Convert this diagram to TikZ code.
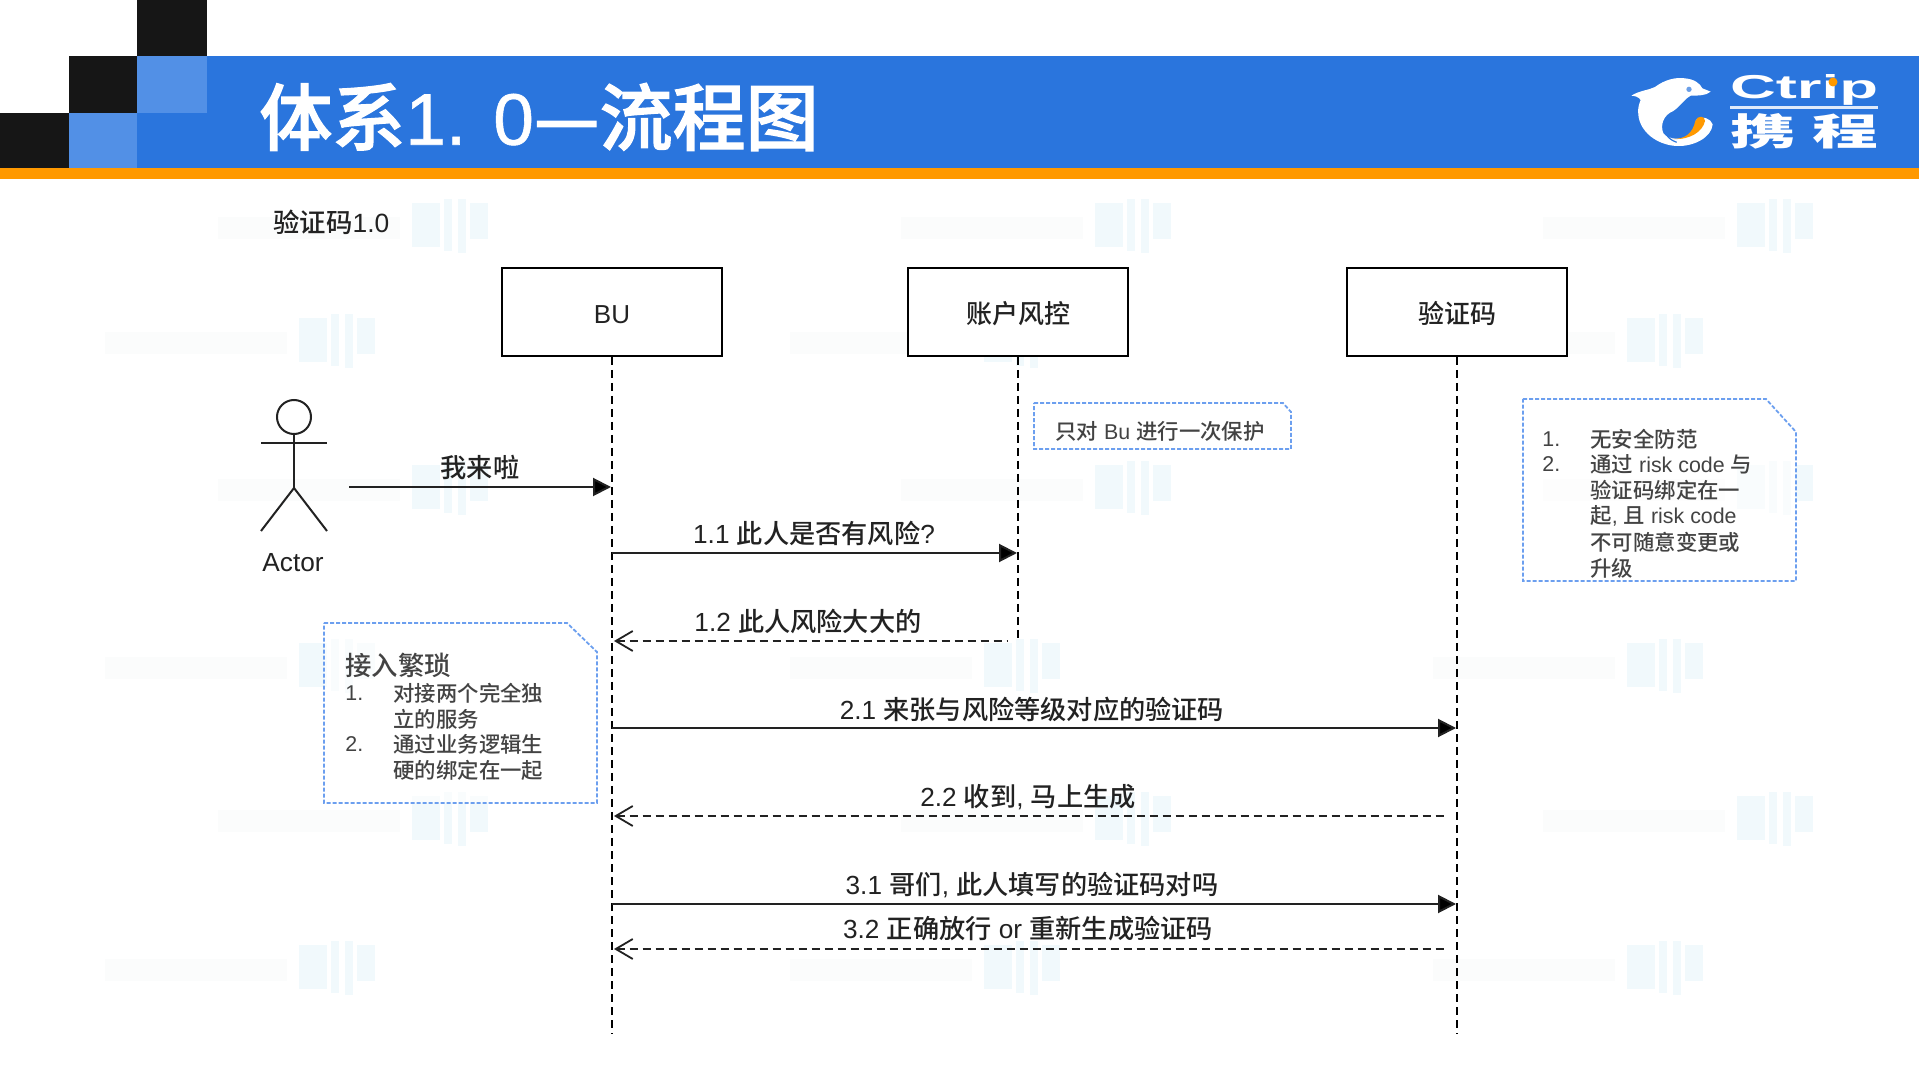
\documentclass[tikz,border=0pt]{standalone}
\usepackage{fontspec}
\usepackage{graphicx}
\setmainfont{Liberation Sans}
\newfontfamily\cjkf{Noto Sans CJK SC Medium}
\newfontfamily\titlef[FakeBold=1.6]{Noto Sans CJK SC Medium}
\newfontfamily\titlel[FakeBold=0.8]{Liberation Sans}
\usetikzlibrary{arrows.meta,calc}
\definecolor{hdrblue}{HTML}{2A75DD}
\definecolor{hdrlight}{HTML}{5290E6}
\definecolor{hdrblack}{HTML}{161616}
\definecolor{hdrorange}{HTML}{FF9900}
\definecolor{notecol}{HTML}{6C9FEF}
\definecolor{inkcol}{HTML}{222222}
\definecolor{wmbar}{HTML}{F1F9FC}
\definecolor{wmtxt}{HTML}{FBFCFC}
\newcommand{\zh}[1]{{\cjkf #1}}
\newcommand{\fs}[1]{\fontsize{#1}{#1}\selectfont}
\tikzset{
  actorbox/.style={draw=black,line width=1pt,fill=white,minimum width=110pt,minimum height=44pt,inner sep=0pt,text=inkcol,font=\fs{13},text height=14pt,text depth=2pt},
  lifeline/.style={line width=1pt,draw=black,dash pattern=on 4pt off 2.5pt},
  callmsg/.style={line width=1pt,draw=inkcol,-{Triangle[length=9pt,width=9pt,fill=black]},shorten >=0.5pt},
  backmsg/.style={line width=1pt,draw=inkcol,dash pattern=on 4pt off 2.5pt,{Straight Barb[length=8.5pt,width=10pt,line width=.9pt]}-,shorten <=1pt,shorten >=5pt},
  msglabel/.style={inner sep=0pt,text=inkcol,font=\fs{13.1}},
  notebox/.style={draw=notecol,line width=.9pt,dash pattern=on 2pt off 1pt,fill=white,fill opacity=0.6},
  notetext/.style={anchor=west,inner sep=0pt,text=inkcol!85!white,font=\fs{10.7}},
  figure/.style={draw=inkcol,line width=1pt},
}
\begin{document}
\begin{tikzpicture}[x=0.5pt,y=-0.5pt]
\useasboundingbox (0,0) rectangle (1919,1080);
\fill[white] (0,0) rectangle (1919,1080);
\clip (0,0) rectangle (1919,1080);
% watermark
\foreach \wx/\wy in {450/225,1133/225,1775/225,337/340,1022/340,1665/340,450/487,1133/487,1775/487,337/665,1022/665,1665/665,450/818,1133/818,1775/818,337/967,1022/967,1665/967}{
  \fill[wmtxt] (\wx-232,\wy-8) rectangle (\wx-50,\wy+14);
  \fill[wmbar] (\wx-38,\wy-22) rectangle (\wx-10,\wy+22);
  \fill[wmbar] (\wx-6,\wy-26) rectangle (\wx+2,\wy+26);
  \fill[wmbar] (\wx+8,\wy-26) rectangle (\wx+16,\wy+28);
  \fill[wmbar] (\wx+20,\wy-22) rectangle (\wx+38,\wy+14);
}
% header
\fill[hdrblue] (207,56) rectangle (1919,168);
\fill[hdrblue] (137,113) rectangle (207,168);
\fill[hdrlight] (137,56) rectangle (207,113);
\fill[hdrlight] (69,113) rectangle (137,168);
\fill[hdrblack] (137,0) rectangle (207,56);
\fill[hdrblack] (69,56) rectangle (137,113);
\fill[hdrblack] (0,113) rectangle (69,168);
\fill[hdrorange] (0,168) rectangle (1919,179);
\node[anchor=west,inner sep=0pt,text=white,font=\fs{36.5}] (title) at (259,117) {{\titlef 体系}{\titlel 1. 0}{\titlef —流程图}};
% logo
\begin{scope}[shift={(1620,65)},x=0.16667pt,y=-0.16667pt]
  \fill[white,even odd rule] (34,92) .. controls (60,76) and (85,76) .. (105,66)
    .. controls (135,43) and (170,36) .. (195,40)
    .. controls (225,43) and (240,56) .. (247,70)
    -- (272,80) .. controls (258,92) and (235,92) .. (212,92)
    .. controls (195,100) and (185,120) .. (160,138)
    .. controls (130,150) and (120,180) .. (130,205)
    .. controls (145,225) and (190,228) .. (215,205)
    .. controls (225,195) and (228,180) .. (228,165)
    .. controls (245,150) and (272,160) .. (278,178)
    .. controls (275,215) and (225,245) .. (170,243)
    .. controls (110,240) and (60,200) .. (55,150)
    .. controls (52,130) and (58,115) .. (62,105)
    .. controls (55,95) and (45,93) .. (34,92) -- cycle;
  \fill[hdrorange] (160,222) .. controls (195,222) and (218,205) .. (226,168)
    .. controls (232,150) and (256,152) .. (255,168)
    .. controls (248,200) and (210,225) .. (160,222) -- cycle;
  \draw[hdrblue,line width=.6pt] (140,165) .. controls (125,190) and (135,220) .. (170,232);
  \fill[hdrblue!70!white] (207,73) circle (8);
\end{scope}
\node[inner sep=0pt,text=white,font=\bfseries] (logoen) at (1804,90) {\resizebox{74pt}{12pt}{Ctrip}};
\fill[hdrorange] (1833,82) circle (4.5);
\fill[white!85!hdrblue] (1730,106.5) rectangle (1878,109.5);
\node[inner sep=0pt,text=white,font=\bfseries] (logozh) at (1804,131) {\resizebox{74pt}{16pt}{\zh{携\hspace{.25em}程}}};
% caption
\node[anchor=west,inner sep=0pt,text=inkcol,font=\fs{13.2}] (caption) at (273,222) {\zh{验证码}1.0};
% lifeline heads
\node[actorbox] (bu) at (612,312) {BU};
\node[actorbox] (risk) at (1018,312) {\zh{账户风控}};
\node[actorbox] (code) at (1457,312) {\zh{验证码}};
\coordinate (buend) at (612,1034);
\coordinate (riskend) at (1018,641);
\coordinate (codeend) at (1457,1034);
\draw[lifeline] (bu.south) -- (buend);
\draw[lifeline] (risk.south) -- (riskend);
\draw[lifeline] (code.south) -- (codeend);
% actor
\node[circle,draw=inkcol,line width=1pt,minimum size=17pt,inner sep=0pt] (head) at (294,417) {};
\coordinate (hip) at (294,488);
\coordinate (armL) at (261,443);
\coordinate (armR) at (327,443);
\coordinate (footL) at (261,531);
\coordinate (footR) at (327,531);
\draw[figure] (head.south) -- (hip);
\draw[figure] (armL) -- (armR);
\draw[figure] (footL) -- (hip) -- (footR);
\node[msglabel] (actorlabel) at (293,563) {Actor};
% rows
\coordinate (r0) at (0,487);
\coordinate (r1) at (0,553);
\coordinate (r2) at (0,641);
\coordinate (r3) at (0,728);
\coordinate (r4) at (0,816);
\coordinate (r5) at (0,904);
\coordinate (r6) at (0,949);
\coordinate (actorhand) at (349,487);
\draw[callmsg] (actorhand) -- (bu.south |- r0);
\draw[callmsg] (bu.south |- r1) -- (risk.south |- r1);
\draw[backmsg] (bu.south |- r2) -- (risk.south |- r2);
\draw[callmsg] (bu.south |- r3) -- (code.south |- r3);
\draw[backmsg] (bu.south |- r4) -- (code.south |- r4);
\draw[callmsg] (bu.south |- r5) -- (code.south |- r5);
\draw[backmsg] (bu.south |- r6) -- (code.south |- r6);
\node[msglabel] (m0) at (480,467.5) {\zh{我来啦}};
\node[msglabel] (m1) at (814,533.5) {1.1 \zh{此人是否有风险}?};
\node[msglabel] (m2) at (808,621) {1.2 \zh{此人风险大大的}};
\node[msglabel] (m3) at (1032,709.5) {2.1 \zh{来张与风险等级对应的验证码}};
\node[msglabel] (m4) at (1028,797) {2.2 \zh{收到}, \zh{马上生成}};
\node[msglabel] (m5) at (1032,885) {3.1 \zh{哥们}, \zh{此人填写的验证码对吗}};
\node[msglabel] (m6) at (1028,929) {3.2 \zh{正确放行} or \zh{重新生成验证码}};
% notes
\draw[notebox] (324,623) -- (567,623) -- (597,652) -- (597,803) -- (324,803) -- cycle;
\node[notetext,font=\fs{13.2}] (n1t) at (345,665) {\zh{接入繁琐}};
\node[notetext] (n1a) at (345,693) {1.};
\node[notetext] (n1b) at (393,693) {\zh{对接两个完全独}};
\node[notetext] (n1c) at (393,719) {\zh{立的服务}};
\node[notetext] (n1d) at (345,744) {2.};
\node[notetext] (n1e) at (393,744) {\zh{通过业务逻辑生}};
\node[notetext] (n1f) at (393,770) {\zh{硬的绑定在一起}};
\draw[notebox] (1034,403) -- (1283,403) -- (1291,412) -- (1291,449) -- (1034,449) -- cycle;
\node[notetext] (n2) at (1055,431) {\zh{只对} Bu \zh{进行一次保护}};
\draw[notebox] (1523,399) -- (1766,399) -- (1796,432) -- (1796,581) -- (1523,581) -- cycle;
\node[notetext] (n3a) at (1542,439) {1.};
\node[notetext] (n3b) at (1590,439) {\zh{无安全防范}};
\node[notetext] (n3c) at (1542,464) {2.};
\node[notetext] (n3d) at (1590,464) {\zh{通过} risk code \zh{与}};
\node[notetext] (n3e) at (1590,490) {\zh{验证码绑定在一}};
\node[notetext] (n3f) at (1590,516) {\zh{起}, \zh{且} risk code};
\node[notetext] (n3g) at (1590,542) {\zh{不可随意变更或}};
\node[notetext] (n3h) at (1590,568) {\zh{升级}};
\end{tikzpicture}
\end{document}
